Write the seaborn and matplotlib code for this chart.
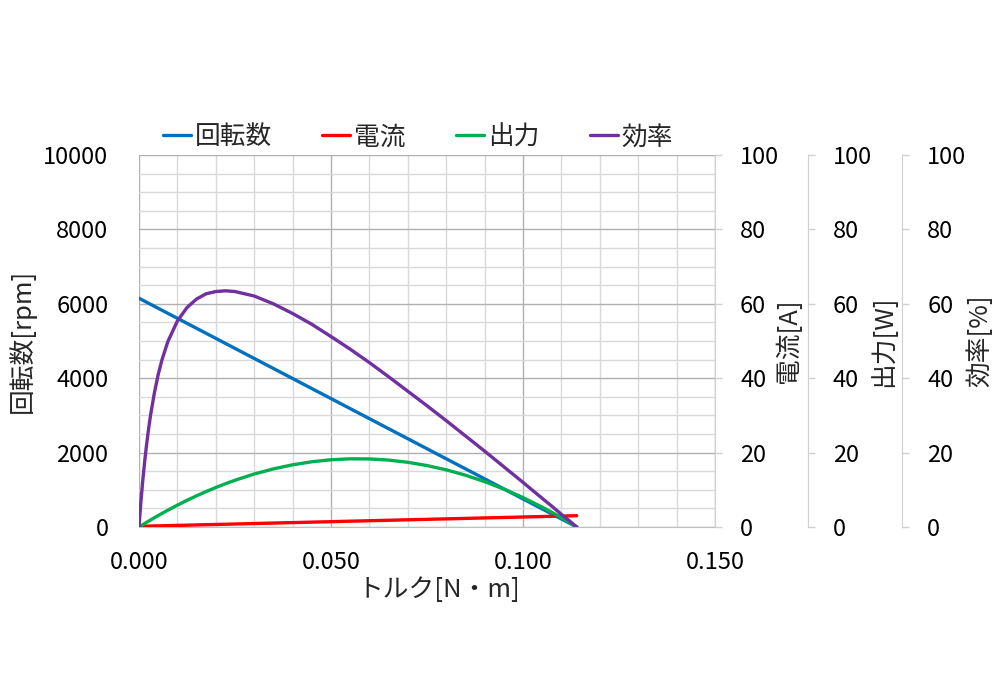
import matplotlib
matplotlib.use("Agg")
import matplotlib.pyplot as plt
from matplotlib.ticker import MultipleLocator, FormatStrFormatter
import seaborn as sns
import pandas as pd

# ---- data ----
torque = [0.0, 0.00025, 0.0005, 0.001, 0.0015, 0.002, 0.0025, 0.003, 0.004, 0.005,
          0.006, 0.0075, 0.01, 0.0125, 0.015, 0.0175, 0.02, 0.0225, 0.025, 0.03,
          0.035, 0.04, 0.045, 0.05, 0.055, 0.06, 0.065, 0.07, 0.075, 0.08,
          0.085, 0.09, 0.095, 0.10, 0.105, 0.1075, 0.11, 0.1125, 0.114]
speed_rpm = [6150, 6137, 6123, 6096, 6069, 6042, 6015, 5988, 5934, 5880,
             5826, 5745, 5611, 5476, 5341, 5206, 5071, 4936, 4801, 4532,
             4262, 3992, 3722, 3453, 3183, 2913, 2643, 2374, 2104, 1834,
             1565, 1295, 1025, 755, 486, 351, 216, 81, 0]
current_a = [0.18, 0.19, 0.19, 0.21, 0.22, 0.23, 0.24, 0.26, 0.28, 0.31,
             0.33, 0.37, 0.43, 0.49, 0.56, 0.62, 0.68, 0.74, 0.81, 0.93,
             1.06, 1.18, 1.31, 1.43, 1.56, 1.69, 1.81, 1.94, 2.06, 2.19,
             2.31, 2.44, 2.56, 2.69, 2.81, 2.88, 2.94, 3.00, 3.04]
output_w = [0.0, 0.16, 0.32, 0.64, 0.95, 1.27, 1.57, 1.88, 2.49, 3.08,
            3.66, 4.51, 5.88, 7.17, 8.39, 9.54, 10.62, 11.63, 12.57, 14.24,
            15.62, 16.72, 17.54, 18.08, 18.33, 18.30, 17.99, 17.40, 16.52, 15.37,
            13.93, 12.20, 10.20, 7.91, 5.34, 3.95, 2.49, 0.95, 0.0]
efficiency_pct = [0.0, 3.5, 6.8, 12.7, 17.8, 22.4, 26.4, 30.0, 36.0, 41.0,
                  45.0, 49.8, 55.4, 59.0, 61.3, 62.7, 63.3, 63.5, 63.3, 62.1,
                  60.0, 57.4, 54.5, 51.2, 47.8, 44.2, 40.4, 36.5, 32.6, 28.6,
                  24.5, 20.4, 16.2, 12.0, 7.7, 5.6, 3.4, 1.3, 0.0]

series_names = ["回転数", "電流", "出力", "効率"]
series_colors = ["#0070C0", "#FF0000", "#00B050", "#7030A0"]
x_label = "トルク[N・m]"
y_labels = ["回転数[rpm]", "電流[A]", "出力[W]", "効率[%]"]

df = pd.DataFrame({"torque": torque, "speed": speed_rpm, "current": current_a,
                   "output": output_w, "eff": efficiency_pct})

sns.set_style("white")
plt.rcParams["font.family"] = ["Noto Sans CJK JP", "DejaVu Sans"]
FS = 17      # tick labels
FSL = 18.5   # Japanese labels / legend

fig = plt.figure(figsize=(10, 6.8), dpi=100)
ax = fig.add_axes([0.139, 0.225, 0.576, 0.547])
ax2 = ax.twinx()
ax3 = ax.twinx()
ax4 = ax.twinx()

lw = 2.4
kw = dict(lw=lw, sort=False, legend=False, solid_joinstyle="round", solid_capstyle="round")
sns.lineplot(data=df, x="torque", y="speed", ax=ax, color=series_colors[0], label=series_names[0], **kw)
sns.lineplot(data=df, x="torque", y="current", ax=ax2, color=series_colors[1], label=series_names[1], **kw)
sns.lineplot(data=df, x="torque", y="output", ax=ax3, color=series_colors[2], label=series_names[2], **kw)
sns.lineplot(data=df, x="torque", y="eff", ax=ax4, color=series_colors[3], label=series_names[3], **kw)

# primary axes
ax.set_xlim(0, 0.15)
ax.set_ylim(0, 10000)
ax.xaxis.set_major_locator(MultipleLocator(0.05))
ax.xaxis.set_minor_locator(MultipleLocator(0.01))
ax.yaxis.set_major_locator(MultipleLocator(2000))
ax.yaxis.set_minor_locator(MultipleLocator(500))
ax.xaxis.set_major_formatter(FormatStrFormatter("%.3f"))
ax.grid(which="major", color="#b0b0b0", lw=1.0)
ax.grid(which="minor", color="#d9d9d9", lw=1.0)
ax.set_axisbelow(True)
for s in ["top", "right", "left"]:
    ax.spines[s].set_visible(False)
ax.spines["bottom"].set_color("#bfbfbf")
ax.tick_params(axis="both", which="both", length=0, labelsize=FS, colors="black")
ax.tick_params(axis="x", pad=17)
ax.tick_params(axis="y", pad=22)
ax.set_xlabel(x_label, fontsize=FSL, va="center")
ax.xaxis.set_label_coords(0.52, -0.17)
ax.set_ylabel(y_labels[0], fontsize=FSL, va="center")
ax.yaxis.set_label_coords(-0.203, 0.5)

# secondary axes
offsets = [1.0, 1.161, 1.325]
label_x = [1.128, 1.292, 1.46]
for a, off, lx, lab in zip([ax2, ax3, ax4], offsets, label_x, y_labels[1:]):
    a.set_ylim(0, 100)
    a.yaxis.set_major_locator(MultipleLocator(20))
    for s in ["top", "left", "bottom"]:
        a.spines[s].set_visible(False)
    a.spines["right"].set_position(("axes", off))
    a.spines["right"].set_color("#d0d0d0")
    a.tick_params(axis="y", which="major", direction="out", length=5, width=1,
                  color="#d0d0d0", labelsize=FS, pad=13, labelcolor="black")
    a.set_ylabel(lab, fontsize=FSL, va="center")
    a.yaxis.set_label_coords(lx, 0.5)
    a.grid(False)
    a.patch.set_visible(False)

handles = [ax.lines[0], ax2.lines[0], ax3.lines[0], ax4.lines[0]]
fig.legend(handles, series_names, loc="center", bbox_to_anchor=(0.418, 0.798), ncol=4,
           frameon=False, fontsize=FSL, handlelength=1.1, handletextpad=0.15, columnspacing=1.95)

fig.savefig("out.png", dpi=100)
